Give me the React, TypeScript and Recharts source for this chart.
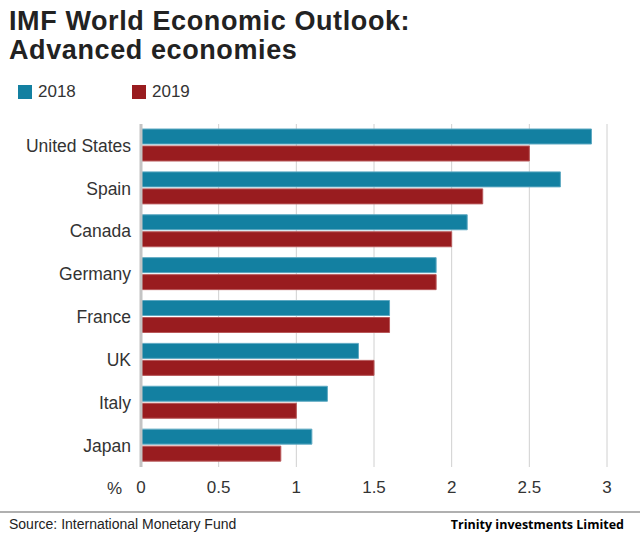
import React from 'react';
import { BarChart, Bar, XAxis, YAxis, CartesianGrid } from 'recharts';

const countries = ['United States', 'Spain', 'Canada', 'Germany', 'France', 'UK', 'Italy', 'Japan'];
const growth2018 = [2.9, 2.7, 2.1, 1.9, 1.6, 1.4, 1.2, 1.1];
const growth2019 = [2.5, 2.2, 2.0, 1.9, 1.6, 1.5, 1.0, 0.9];
const xTicks = [0, 0.5, 1, 1.5, 2, 2.5, 3];
const seriesLabels = ['2018', '2019'];

const data = countries.map((country, i) => ({
  country,
  y2018: growth2018[i],
  y2019: growth2019[i],
}));

const TEAL = '#1380a1';
const RED = '#991c1f';
const FONT = '"Liberation Sans", Arial, Helvetica, sans-serif';

const App = () => {
  const colors = [TEAL, RED];
  return (
    <div style={{ position: 'absolute', left: 0, top: 0, width: 640, height: 540, background: '#fff', fontFamily: FONT }}>
      <div
        style={{
          position: 'absolute',
          left: 9,
          top: 7,
          fontSize: 27,
          fontWeight: 'bold',
          lineHeight: '29px',
          color: '#222',
          letterSpacing: 0.6,
        }}
      >
        IMF World Economic Outlook:
        <br />
        Advanced economies
      </div>
      {/* legend */}
      <div style={{ position: 'absolute', left: 18, top: 82, display: 'flex', fontSize: 17, color: '#333' }}>
        {seriesLabels.map((label, i) => (
          <div key={label} style={{ display: 'flex', alignItems: 'center', width: 114, height: 20 }}>
            <span style={{ width: 14, height: 14, background: colors[i], marginRight: 6, display: 'inline-block' }} />
            <span>{label}</span>
          </div>
        ))}
      </div>
      <BarChart
        width={640}
        height={540}
        data={data}
        layout="vertical"
        margin={{ top: 124, right: 33, left: 0, bottom: 0 }}
        barSize={15}
        barGap={2}
        style={{ position: 'absolute', left: 0, top: 0 }}
      >
        <CartesianGrid horizontal={false} stroke="#d0d0d0" />
        <XAxis
          type="number"
          domain={[0, 3]}
          ticks={xTicks}
          axisLine={false}
          tickLine={false}
          tickMargin={8}
          height={73}
          tick={{ fill: '#333', fontSize: 17, fontFamily: FONT }}
          label={{ value: '%', position: 'insideBottomLeft', offset: 0, dx: -34, dy: -46, fill: '#333', fontSize: 17, fontFamily: FONT }}
        />
        <YAxis
          type="category"
          dataKey="country"
          width={141}
          axisLine={{ stroke: '#c4c4c4', strokeWidth: 3 }}
          tickLine={false}
          tickMargin={4}
          tick={{ fill: '#333', fontSize: 17.5, fontFamily: FONT }}
        />
        <Bar dataKey="y2018" name="2018" fill={TEAL} stroke="#5ea9c2" strokeWidth={1} isAnimationActive={false} />
        <Bar dataKey="y2019" name="2019" fill={RED} stroke="#b8585a" strokeWidth={1} isAnimationActive={false} />
      </BarChart>
      <div style={{ position: 'absolute', left: 0, top: 511, width: 640, height: 2, background: '#b0b0b0' }} />
      <div style={{ position: 'absolute', left: 9, top: 516, fontSize: 14, color: '#222' }}>
        Source: International Monetary Fund
      </div>
      <div
        style={{
          position: 'absolute',
          right: 16,
          top: 516,
          fontSize: 12.5,
          fontWeight: 'bold',
          color: '#000',
          fontFamily: '"Open Sans", "Noto Sans", sans-serif',
        }}
      >
        Trinity investments Limited
      </div>
    </div>
  );
};

export default App;
